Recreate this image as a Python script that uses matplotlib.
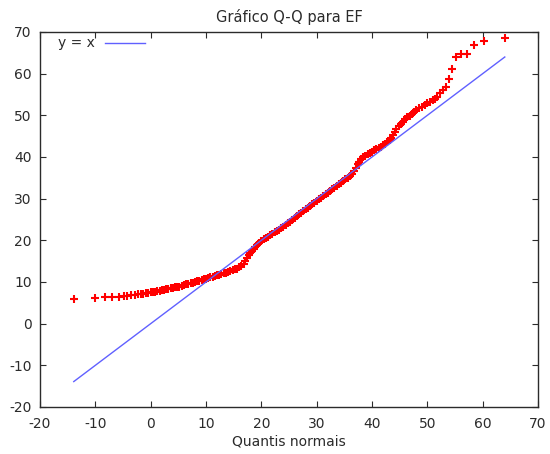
"""Gráfico Q-Q para EF — recriação em estilo gnuplot."""

import matplotlib

matplotlib.use("Agg")
import matplotlib.pyplot as plt

# quantis normais (eixo x) e valores ordenados de EF (eixo y)
tail_x = [-13.9, -10.0, -8.2, -6.9, -5.8, -4.9, -4.2, -3.5, -2.9, -2.3, -1.8, -1.3, -0.9, -0.5]
tail_y = [6.0, 6.2, 6.3, 6.4, 6.5, 6.6, 6.7, 6.8, 6.9, 7.0, 7.1, 7.2, 7.3, 7.4]

band_x = [
    0.0, 0.4, 0.8, 1.2, 1.6, 2.0, 2.4, 2.8, 3.2, 3.6, 4.0, 4.4, 4.8, 5.2, 5.6, 6.0,
    6.4, 6.8, 7.2, 7.6, 8.0, 8.4, 8.8, 9.2, 9.6, 10.0, 10.4, 10.8, 11.2, 11.6, 12.0,
    12.4, 12.8, 13.2, 13.6, 14.0, 14.4, 14.8, 15.2, 15.6, 16.0, 16.4, 16.8, 17.1,
    17.4, 17.7, 18.0, 18.3, 18.6, 18.9, 19.2, 19.6, 20.0, 20.4, 20.8, 21.2, 21.6,
    22.0, 22.4, 22.8, 23.2, 23.6, 24.0, 24.4, 24.8, 25.2, 25.6, 26.0, 26.4, 26.8,
    27.2, 27.6, 28.0, 28.4, 28.8, 29.2, 29.6, 30.0, 30.4, 30.8, 31.2, 31.6, 32.0,
    32.4, 32.8, 33.2, 33.6, 34.0, 34.4, 34.8, 35.2, 35.6, 36.0, 36.4, 36.8, 37.1,
    37.4, 37.7, 38.0, 38.4, 38.8, 39.2, 39.6, 40.0, 40.4, 40.8, 41.2, 41.6, 42.0,
    42.4, 42.8, 43.2, 43.5, 43.8, 44.1, 44.4, 44.8, 45.2, 45.6, 46.0, 46.4, 46.8,
    47.2, 47.6, 48.0, 48.5, 49.0, 49.5, 50.0, 50.5, 51.0, 51.4, 51.8, 52.3, 52.8,
    53.3,
]
band_y = [
    7.5, 7.6, 7.7, 7.8, 7.9, 8.0, 8.1, 8.2, 8.3, 8.5, 8.6, 8.7, 8.8, 8.9, 9.1, 9.2,
    9.4, 9.5, 9.7, 9.8, 10.0, 10.2, 10.3, 10.5, 10.6, 10.8, 10.9, 11.1, 11.3, 11.4, 11.6,
    11.7, 11.9, 12.1, 12.2, 12.4, 12.6, 12.8, 13.0, 13.2, 13.5, 13.9, 14.4, 15.0,
    15.7, 16.4, 17.0, 17.5, 18.0, 18.4, 18.9, 19.4, 19.9, 20.2, 20.6, 20.9, 21.3,
    21.6, 21.9, 22.2, 22.5, 22.9, 23.3, 23.7, 24.1, 24.5, 24.9, 25.4, 25.8, 26.2,
    26.6, 27.0, 27.4, 27.8, 28.2, 28.6, 29.0, 29.4, 29.8, 30.2, 30.6, 31.0, 31.4,
    31.8, 32.2, 32.6, 33.0, 33.4, 33.8, 34.2, 34.6, 35.0, 35.5, 36.0, 36.6, 37.4,
    38.2, 38.9, 39.5, 40.0, 40.3, 40.6, 41.0, 41.3, 41.6, 41.9, 42.2, 42.5, 42.8,
    43.1, 43.5, 44.0, 44.6, 45.3, 46.0, 46.7, 47.4, 48.0, 48.5, 49.0, 49.5, 49.9,
    50.4, 50.9, 51.3, 51.7, 52.0, 52.4, 52.9, 53.3, 53.6, 53.9, 54.5, 55.3, 56.0,
    56.9,
]

upper_x = [53.9, 54.5, 55.2, 56.1, 57.1, 58.5, 60.3, 64.0]
upper_y = [58.6, 61.0, 64.1, 64.6, 64.8, 66.9, 67.9, 68.5]

line_x = [-13.9, 64.0]  # reta y = x entre o menor e o maior quantil

TEXT = "#2b2b2b"

plt.rcParams["font.family"] = ["DejaVu Sans"]
plt.rcParams["axes.unicode_minus"] = False  # gnuplot usa hífen simples
fig = plt.figure(figsize=(5.5, 4.54), dpi=100)
ax = fig.add_axes([40 / 550, 1 - 407 / 454, 498 / 550, 375 / 454])

pts_x = tail_x + band_x + upper_x
pts_y = tail_y + band_y + upper_y
ax.plot(pts_x, pts_y, linestyle="none", marker="+", color="#ff0000",
        markersize=6, markeredgewidth=1.5, zorder=2)
(ref,) = ax.plot(line_x, line_x, color="#6060ff", linewidth=1.0, zorder=3)

ax.set_xlim(-20, 70)
ax.set_ylim(-20, 70)
ax.set_xticks(range(-20, 71, 10))
ax.set_yticks(range(-20, 71, 10))
ax.tick_params(direction="in", top=True, right=True, length=4, width=0.8,
               color=TEXT, labelcolor=TEXT, labelsize=10, pad=6)
ax.tick_params(axis="x", pad=7)
for s in ax.spines.values():
    s.set_color(TEXT)
    s.set_linewidth(1.0)

ax.set_title("Gráfico Q-Q para EF", fontsize=10.5, color=TEXT, pad=7)
ax.set_xlabel("Quantis normais", fontsize=10, color=TEXT, labelpad=3)

ax.legend([ref], ["y = x"], loc="upper left", bbox_to_anchor=(0.036, 0.988),
          frameon=False, markerfirst=False, borderaxespad=0, borderpad=0,
          handlelength=2.95, handletextpad=0.7, fontsize=10, labelcolor=TEXT)

fig.savefig("out.png", dpi=100)
